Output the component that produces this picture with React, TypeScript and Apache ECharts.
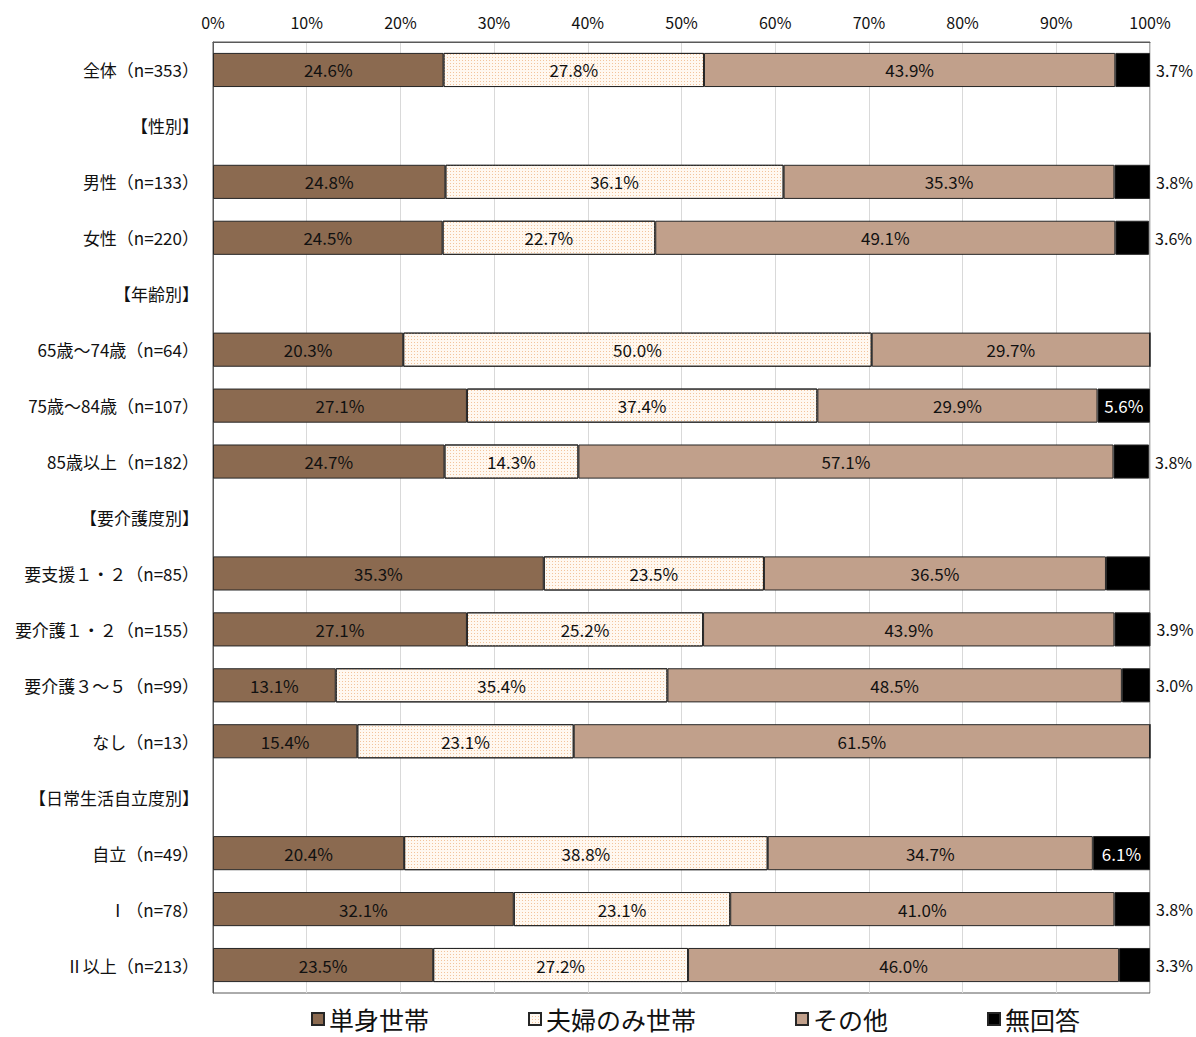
import React, { useEffect, useRef } from "react";
import * as echarts from "echarts";

// Row labels (header rows have no bars)
const categories = [
  "全体（n=353）",
  "【性別】",
  "男性（n=133）",
  "女性（n=220）",
  "【年齢別】",
  "65歳～74歳（n=64）",
  "75歳～84歳（n=107）",
  "85歳以上（n=182）",
  "【要介護度別】",
  "要支援１・２（n=85）",
  "要介護１・２（n=155）",
  "要介護３～５（n=99）",
  "なし（n=13）",
  "【日常生活自立度別】",
  "自立（n=49）",
  "Ⅰ（n=78）",
  "Ⅱ以上（n=213）",
];

const seriesNames = ["単身世帯", "夫婦のみ世帯", "その他", "無回答"];

// Percentages per row; null = header row
const single = [24.6, null, 24.8, 24.5, null, 20.3, 27.1, 24.7, null, 35.3, 27.1, 13.1, 15.4, null, 20.4, 32.1, 23.5];
const coupleOnly = [27.8, null, 36.1, 22.7, null, 50.0, 37.4, 14.3, null, 23.5, 25.2, 35.4, 23.1, null, 38.8, 23.1, 27.2];
const other = [43.9, null, 35.3, 49.1, null, 29.7, 29.9, 57.1, null, 36.5, 43.9, 48.5, 61.5, null, 34.7, 41.0, 46.0];
const noAnswer = [3.7, null, 3.8, 3.6, null, 0, 5.6, 3.8, null, 4.7, 3.9, 3.0, 0, null, 6.1, 3.8, 3.3];

// Rows whose 無回答 value is not printed
const unlabeledNoAnswer = ["要支援１・２（n=85）"];

const xTicks = [0, 100, 10];

const FONT = "'Noto Sans CJK JP', 'Noto Sans', sans-serif";

export default function App() {
  const ref = useRef<HTMLDivElement>(null);

  useEffect(() => {
    if (!ref.current) return;
    const chart = echarts.init(ref.current, null, { renderer: "svg" });

    const fmt = (p: any) => (p.value == null ? "" : Number(p.value).toFixed(1) + "%");
    const border = { borderColor: "#262626", borderWidth: 1 };
    const insideLabel = {
      show: true,
      position: "inside",
      formatter: fmt,
      fontFamily: FONT,
      fontSize: 17,
      color: "#111",
    };

    const noAnswerData = noAnswer.map((v, i) => {
      if (v == null) return { value: null };
      const hidden = v === 0 || unlabeledNoAnswer.includes(categories[i]);
      if (hidden) return { value: v, label: { show: false } };
      if (v >= 5) {
        return { value: v, label: { show: true, position: "inside", color: "#fff" } };
      }
      return {
        value: v,
        label: { show: true, position: "right", distance: 6, fontSize: 16, color: "#111" },
      };
    });

    const patternDecal = {
      symbol: "rect",
      symbolSize: 1,
      color: "#f2c49c",
      dashArrayX: [1, 2],
      dashArrayY: [1, 2],
      rotation: 0,
    };

    chart.setOption({
      animation: false,
      textStyle: { fontFamily: FONT },
      grid: {
        left: 213,
        right: 46,
        top: 42,
        bottom: 44,
        show: true,
        borderColor: "#595959",
        borderWidth: 1,
        containLabel: false,
      },
      legend: {
        bottom: 5,
        left: 311,
        padding: 0,
        itemGap: 99,
        itemWidth: 12,
        itemHeight: 12,
        icon: "rect",
        textStyle: { fontFamily: FONT, fontSize: 25, lineHeight: 26, color: "#111" },
        data: seriesNames,
      },
      xAxis: {
        type: "value",
        position: "top",
        min: xTicks[0],
        max: xTicks[1],
        interval: xTicks[2],
        axisLine: { show: true, lineStyle: { color: "#595959" } },
        axisTick: { show: false },
        splitLine: { show: true, lineStyle: { color: "#d9d9d9" } },
        axisLabel: {
          formatter: "{value}%",
          fontFamily: FONT,
          fontSize: 16,
          color: "#111",
          margin: 12,
        },
      },
      yAxis: {
        type: "category",
        inverse: true,
        data: categories,
        axisLine: { show: true, lineStyle: { color: "#595959" } },
        axisTick: { show: false },
        axisLabel: { fontFamily: FONT, fontSize: 17, color: "#111", margin: 14 },
      },
      series: [
        {
          name: seriesNames[0],
          type: "bar",
          stack: "total",
          barWidth: "61%",
          data: single,
          itemStyle: { color: "#8b6a50", ...border },
          label: insideLabel,
        },
        {
          name: seriesNames[1],
          type: "bar",
          stack: "total",
          data: coupleOnly,
          itemStyle: { color: "#fff8f0", ...border, decal: patternDecal },
          label: insideLabel,
        },
        {
          name: seriesNames[2],
          type: "bar",
          stack: "total",
          data: other,
          itemStyle: { color: "#c1a08b", ...border },
          label: insideLabel,
        },
        {
          name: seriesNames[3],
          type: "bar",
          stack: "total",
          data: noAnswerData,
          itemStyle: { color: "#000", ...border },
          label: { ...insideLabel, show: false },
        },
      ],
    });

    return () => chart.dispose();
  }, []);

  return (
    <div
      ref={ref}
      style={{ position: "fixed", left: 0, top: 0, width: 1196, height: 1037, background: "#fff" }}
    />
  );
}
